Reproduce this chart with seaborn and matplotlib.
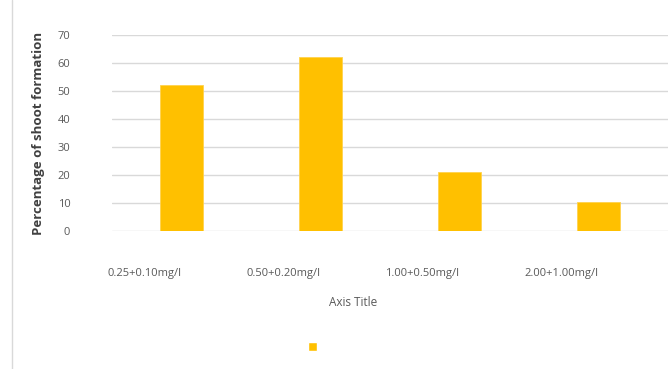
import matplotlib
matplotlib.use("Agg")
import matplotlib.pyplot as plt
import seaborn as sns
import pandas as pd
from matplotlib.patches import Patch
from matplotlib.lines import Line2D

# data
treatments = ["0.25+0.10mg/l", "0.50+0.20mg/l", "1.00+0.50mg/l", "2.00+1.00mg/l"]
shoot_pct = [52, 62, 21, 10.5]
y_ticks = [0, 10, 20, 30, 40, 50, 60, 70]

df = pd.DataFrame({"treatment": treatments, "pct": shoot_pct})

sns.set_style("white")
plt.rcParams["font.family"] = ["Open Sans", "DejaVu Sans"]

fig = plt.figure(figsize=(6.68, 3.69), dpi=100)
ax = fig.add_axes([0.1677, 0.374, 0.8323, 0.531])

sns.barplot(data=df, x="treatment", y="pct", color="#FFC000", saturation=1,
            width=0.316, ax=ax, edgecolor="#FFD24D", linewidth=0.6)

ax.set_xlim(-0.5, 3.5)
ax.set_ylim(0, 70)
ax.set_yticks(y_ticks)
ax.yaxis.grid(True, color="#d9d9d9", linewidth=1)
ax.set_axisbelow(True)
for s in ax.spines.values():
    s.set_visible(False)
ax.tick_params(axis="both", length=0, labelsize=8, labelcolor="#595959")
ax.tick_params(axis="y", pad=30)
ax.tick_params(axis="x", pad=27)
for lab in ax.get_xticklabels():
    lab.set_ha("right")

ax.set_xlabel("Axis Title", fontsize=8.5, color="#595959")
ax.xaxis.set_label_coords(0.433, -0.33)
ax.set_ylabel("Percentage of shoot formation", fontsize=9.5, color="#404040",
              fontweight="bold")
ax.yaxis.set_label_coords(-0.12, 0.5)

# legend with swatch only, like the reference
fig.legend(handles=[Patch(facecolor="#FFC000")], labels=[""], loc="center",
           bbox_to_anchor=(0.468, 0.057), frameon=False, handlelength=0.7,
           handleheight=0.7, handletextpad=0)

# thin frame line on the left edge
fig.add_artist(Line2D([0.018, 0.018], [0, 1], color="#d9d9d9", linewidth=1))

fig.savefig("out.png", dpi=100)
